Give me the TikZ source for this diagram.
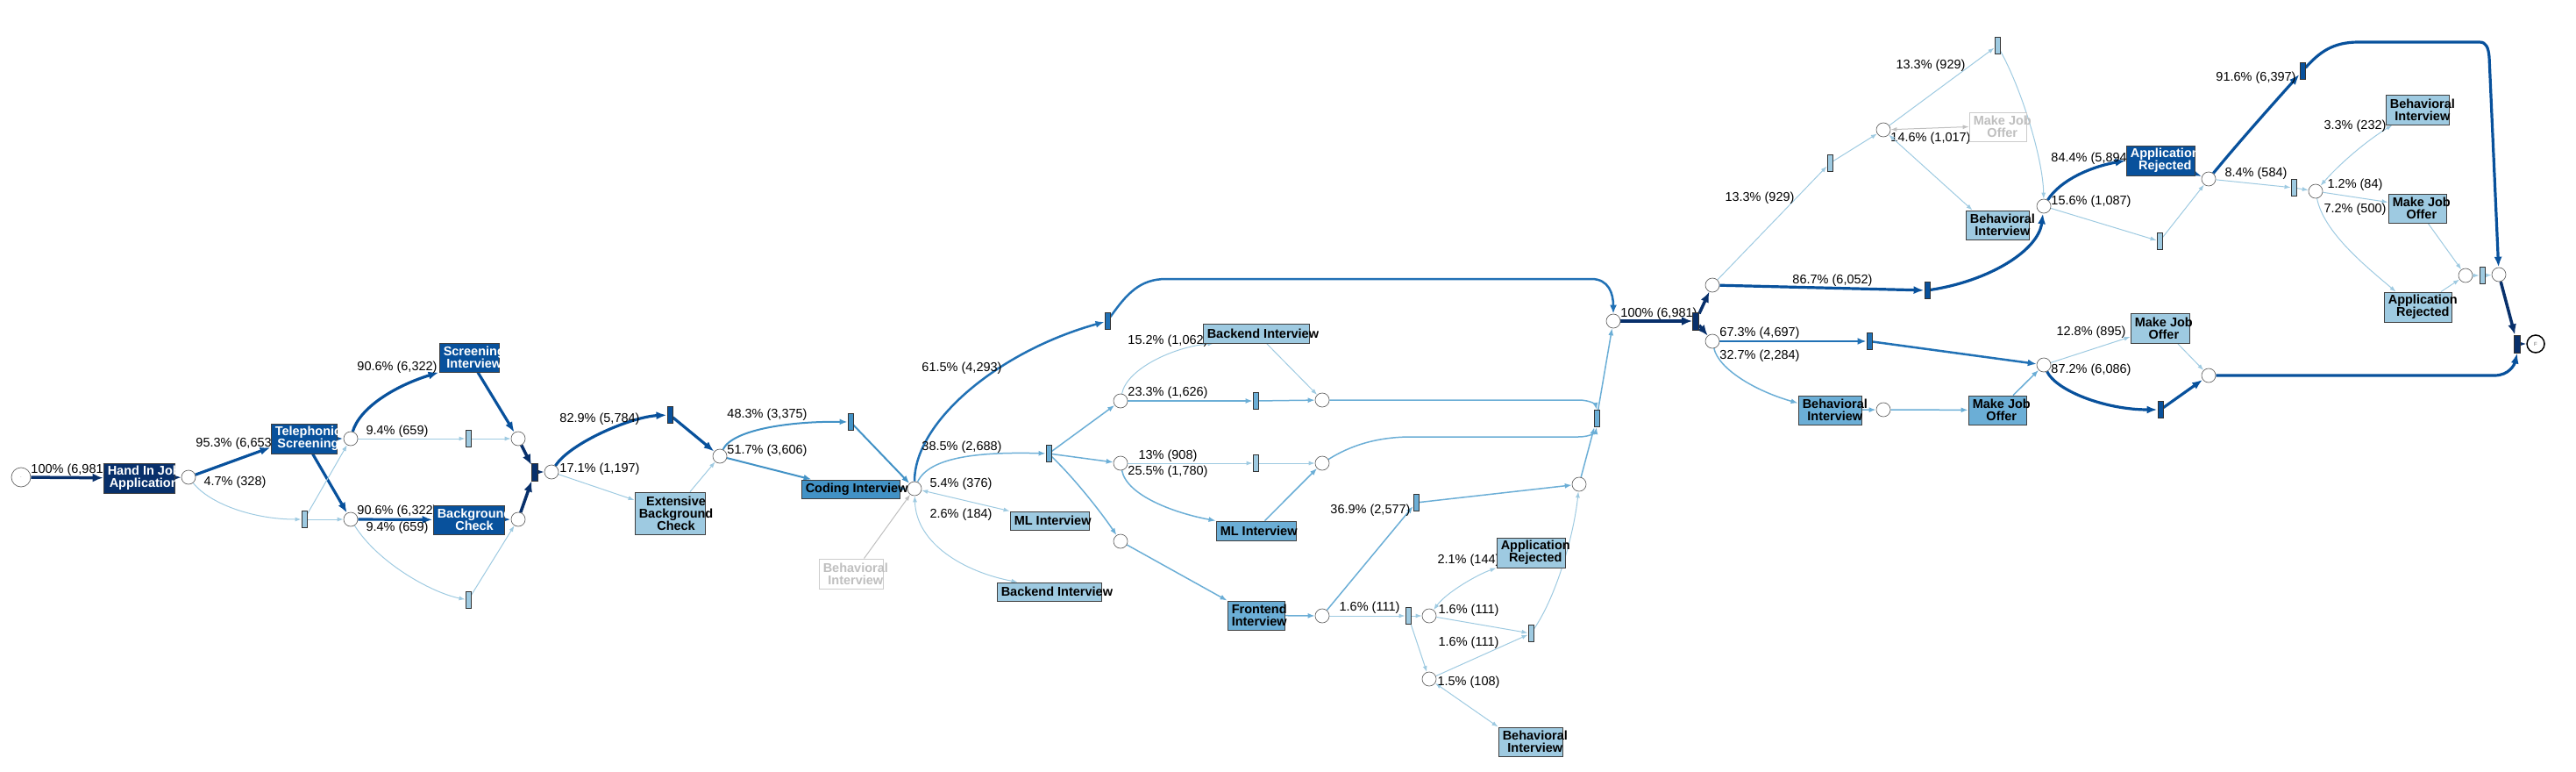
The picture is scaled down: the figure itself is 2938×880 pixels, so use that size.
\documentclass[tikz,border=0pt]{standalone}
\usepackage{fontspec}
\setmainfont{Liberation Sans}
\usetikzlibrary{arrows.meta, calc}

\definecolor{bl9}{HTML}{08306B}
\definecolor{bl8}{HTML}{08519C}
\definecolor{bl7}{HTML}{2171B5}
\definecolor{bl6}{HTML}{4292C6}
\definecolor{bl5}{HTML}{6BAED6}
\definecolor{bl4}{HTML}{9ECAE1}
\newcommand\lblfont{\fontsize{14.5}{15}\selectfont}
\newcommand\actfont{\fontsize{14.5}{14}\selectfont\bfseries}
\pgfdeclarelayer{bg}
\pgfsetlayers{bg,main}

\begin{document}
\begin{tikzpicture}[x=1pt, y=-1pt,
    place/.style={circle, draw=black!60, line width=0.7pt, fill=white, minimum size=16pt, inner sep=0pt},
    tau/.style={rectangle, draw=black!80, line width=0.9pt, minimum width=6pt, minimum height=19pt, inner sep=0pt},
    andt/.style={tau, minimum width=7pt, minimum height=20pt, fill=bl9},
    act/.style={rectangle, draw=black!75, line width=0.9pt, inner sep=0pt},
    ghost/.style={act, draw=black!20, fill=white},
    atxt/.style={font=\actfont, align=center, anchor=west, inner sep=0pt, xshift=5pt},
    lbl/.style={font=\lblfont, inner sep=0pt},
    e1/.style={draw=bl4, line width=1pt, -{Latex[length=7pt,width=5pt]}},
    e1b/.style={e1, {Latex[length=7pt,width=5pt]}-{Latex[length=7pt,width=5pt]}},
    eg/.style={draw=black!25, line width=1pt, -{Latex[length=7pt,width=5pt]}},
    egb/.style={eg, {Latex[length=7pt,width=5pt]}-{Latex[length=7pt,width=5pt]}},
    e2/.style={draw=bl5, line width=1.5pt, -{Latex[length=8pt,width=6pt]}},
    e3/.style={draw=bl6, line width=2pt, -{Latex[length=9pt,width=7pt]}},
    e4/.style={draw=bl7, line width=2.5pt, -{Latex[length=10pt,width=8pt]}},
    e5/.style={draw=bl8, line width=3.2pt, -{Latex[length=12pt,width=9pt]}},
    e6/.style={draw=bl9, line width=3.5pt, -{Latex[length=12pt,width=10pt]}}]
  \useasboundingbox (0,0) rectangle (2938,880);

  \node[place, minimum size=22pt] (start) at (24,544) {\fontsize{5}{5}\selectfont $\cdot$};
  \node[act, fill=bl9, minimum width=81, minimum height=34, label={[atxt, white]west:{Hand In Job\\Application}}] (handin) at (158.5,545) {};
  \node[place] (p1) at (215,544) {};
  \node[act, fill=bl8, minimum width=75, minimum height=34, label={[atxt, white]west:{Telephonic\\Screening}}] (tel) at (346.5,500) {};
  \node[tau, fill=bl4] (t1) at (347,592) {};
  \node[place] (p2) at (400,500) {};
  \node[place] (p3) at (400,592) {};
  \node[act, fill=bl8, minimum width=68, minimum height=33, label={[atxt, white]west:{Screening\\Interview}}] (si) at (535,407.5) {};
  \node[tau, fill=bl4] (t2) at (534,500) {};
  \node[act, fill=bl8, minimum width=81, minimum height=33, label={[atxt, white]west:{Background\\Check}}] (bc) at (534.5,592.5) {};
  \node[tau, fill=bl4] (t3) at (534,684) {};
  \node[place] (p4) at (591,500) {};
  \node[place] (p5) at (591,592) {};
  \node[andt] (t4) at (610,538) {};
  \node[place] (p6) at (629,538) {};
  \node[tau, fill=bl8] (t5) at (764,473) {};
  \node[act, fill=bl4, minimum width=80, minimum height=48, label={[atxt]west:{Extensive\\Background\\Check}}] (ebc) at (764,585) {};
  \node[place] (p7) at (821,520) {};
  \node[tau, fill=bl6] (t6) at (970,481) {};
  \node[act, fill=bl6, minimum width=112, minimum height=21, label={[atxt]west:{Coding Interview}}] (ci) at (970,557.5) {};
  \node[ghost, minimum width=73, minimum height=34, label={[atxt, black!25]west:{Behavioral\\Interview}}] (big) at (970.5,654) {};
  \node[place] (p8) at (1043,557) {};
  \node[tau, fill=bl7] (t7) at (1263,366) {};
  \node[tau, fill=bl5] (t8) at (1196,517) {};
  \node[act, fill=bl4, minimum width=90, minimum height=21, label={[atxt]west:{ML Interview}}] (mll) at (1197,593.5) {};
  \node[act, fill=bl4, minimum width=119, minimum height=21, label={[atxt]west:{Backend Interview}}] (bel) at (1196.5,674.5) {};
  \node[place] (p9) at (1278,457) {};
  \node[place] (p10) at (1278,528) {};
  \node[place] (p11) at (1278,617) {};
  \node[act, fill=bl4, minimum width=121, minimum height=22, label={[atxt]west:{Backend Interview}}] (beu) at (1432.5,380) {};
  \node[tau, fill=bl5] (t9) at (1432,457) {};
  \node[tau, fill=bl4] (t10) at (1432,528) {};
  \node[act, fill=bl5, minimum width=91, minimum height=22, label={[atxt]west:{ML Interview}}] (mlr) at (1432.5,605) {};
  \node[act, fill=bl5, minimum width=65, minimum height=33, label={[atxt]west:{Frontend\\Interview}}] (fe) at (1432.5,701.5) {};
  \node[place] (p12) at (1508,456) {};
  \node[place] (p13) at (1508,528) {};
  \node[place] (p14) at (1508,702) {};
  \node[tau, fill=bl5] (t11) at (1615,573) {};
  \node[tau, fill=bl4] (t12) at (1606,702) {};
  \node[place] (p15) at (1801,552) {};
  \node[tau, fill=bl5] (t13) at (1821,477) {};
  \node[place] (pj) at (1840,366) {};
  \node[place] (p16) at (1630,702) {};
  \node[place] (p17) at (1630,774) {};
  \node[act, fill=bl4, minimum width=78, minimum height=34, label={[atxt]west:{Application\\Rejected}}] (arm) at (1746,630) {};
  \node[tau, fill=bl4] (t14) at (1746,722) {};
  \node[act, fill=bl4, minimum width=73, minimum height=33, label={[atxt]west:{Behavioral\\Interview}}] (bib) at (1745.5,845.5) {};
  \node[andt] (t15) at (1934,366) {};
  \node[place] (p18) at (1953,325) {};
  \node[place] (p19) at (1953,389) {};
  \node[tau, fill=bl4] (t20) at (2087,186) {};
  \node[place] (p23) at (2148,148) {};
  \node[ghost, minimum width=65, minimum height=33, label={[atxt, black!25]west:{Make Job\\Offer}}] (mjog) at (2278.5,144.5) {};
  \node[act, fill=bl4, minimum width=72, minimum height=33, label={[atxt]west:{Behavioral\\Interview}}] (biu) at (2278,256.5) {};
  \node[tau, fill=bl4] (t21) at (2278,52) {};
  \node[tau, fill=bl8] (t17) at (2198,331) {};
  \node[place] (p24) at (2331,235) {};
  \node[act, fill=bl8, minimum width=78, minimum height=34, label={[atxt, white]west:{Application\\Rejected}}] (art) at (2464,183) {};
  \node[tau, fill=bl4] (t22) at (2463,275) {};
  \node[place] (p25) at (2519,204) {};
  \node[tau, fill=bl8] (t23) at (2626,81) {};
  \node[tau, fill=bl4] (t24) at (2616,214) {};
  \node[place] (p27) at (2641,218) {};
  \node[act, fill=bl4, minimum width=72, minimum height=34, label={[atxt]west:{Behavioral\\Interview}}] (bitr) at (2757,125) {};
  \node[act, fill=bl4, minimum width=66, minimum height=33, label={[atxt]west:{Make Job\\Offer}}] (mjor) at (2757,237.5) {};
  \node[act, fill=bl4, minimum width=77, minimum height=34, label={[atxt]west:{Application\\Rejected}}] (arlr) at (2757.5,350) {};
  \node[place] (p28) at (2812,314) {};
  \node[tau, fill=bl4] (t25) at (2831,314) {};
  \node[place] (p26) at (2850,313) {};
  \node[tau, fill=bl7] (t16) at (2132,389) {};
  \node[act, fill=bl5, minimum width=72, minimum height=33, label={[atxt]west:{Behavioral\\Interview}}] (bim) at (2087,467.5) {};
  \node[place] (p20) at (2148,467) {};
  \node[act, fill=bl5, minimum width=66, minimum height=33, label={[atxt]west:{Make Job\\Offer}}] (mjom) at (2278,467.5) {};
  \node[place] (p21) at (2331,416) {};
  \node[act, fill=bl4, minimum width=67, minimum height=34, label={[atxt]west:{Make Job\\Offer}}] (mjour) at (2463.5,374) {};
  \node[tau, fill=bl8] (t18) at (2464,467) {};
  \node[place] (p22) at (2519,428) {};
  \node[andt] (t19) at (2871,392) {};
  \node[place, minimum size=20pt, line width=1.5pt, draw=black] (end) at (2892,392) {\fontsize{6}{6}\selectfont\color{black!60}F};

  \begin{pgfonlayer}{bg}
  \draw[e6] (start) -- (handin) node[lbl] at (79,536) {100\% (6,981)};
  \draw[e6] (handin) -- (p1);
  \draw[e5] (p1) -- ($(tel.west)+(0,10)$) node[lbl] at (269,506) {95.3\% (6,653)};
  \draw[e1] (p1) .. controls (240,575) and (290,592) .. (t1) node[lbl] at (268,550) {4.7\% (328)};
  \draw[e5] (tel) -- (p2);
  \draw[e5] (tel) -- (p3);
  \draw[e1] (t1) -- (p2);
  \draw[e1] (t1) -- (p3);
  \draw[e5] (p2) .. controls (410,465) and (450,440) .. (si.south west) node[lbl] at (453,419) {90.6\% (6,322)};
  \draw[e1] (p2) -- (t2) node[lbl] at (453,492) {9.4\% (659)};
  \draw[e5] ($(si.south)+(10,0)$) -- (p4);
  \draw[e1] (t2) -- (p4);
  \draw[e5] (p3) -- (bc) node[lbl] at (453,583) {90.6\% (6,322)};
  \draw[e1] (p3) .. controls (430,640) and (490,675) .. (t3) node[lbl] at (453,602) {9.4\% (659)};
  \draw[e5] (bc) -- (p5);
  \draw[e1] (t3) -- (p5);
  \draw[e6] (p4) -- (t4);
  \draw[e6] (p5) -- (t4);
  \draw[e6] (t4) -- (p6);
  \draw[e5] (p6) .. controls (650,505) and (720,475) .. (t5) node[lbl] at (684,478) {82.9\% (5,784)};
  \draw[e1] (p6) -- ($(ebc.west)+(0,-15)$) node[lbl] at (684,535) {17.1\% (1,197)};
  \draw[e5] (t5) -- (p7);
  \draw[e1] ($(ebc.north)+(23,0)$) -- (p7);
  \draw[e3] (p7) .. controls (835,490) and (900,480) .. (t6) node[lbl] at (875,473) {48.3\% (3,375)};
  \draw[e3] (p7) -- ($(ci.north west)+(12,0)$) node[lbl] at (875,514) {51.7\% (3,606)};
  \draw[e3] (t6) -- (p8);
  \draw[e3] (ci) -- (p8);
  \draw[eg] ($(big.north)+(15,0)$) -- (p8);
  \draw[e4] (p8) .. controls (1043,480) and (1140,400) .. (t7) node[lbl] at (1097,420) {61.5\% (4,293)};
  \draw[e2] (p8) .. controls (1060,520) and (1120,515) .. (t8) node[lbl] at (1097,510) {38.5\% (2,688)};
  \draw[e1b] (p8) -- (mll.north west) node[lbl] at (1096,552) {5.4\% (376)};
  \draw[e1b] (p8) .. controls (1045,620) and (1100,652) .. ($(bel.north west)+(24,0)$) node[lbl] at (1096,587) {2.6\% (184)};
  \draw[e4] (t7) .. controls (1285,335) and (1300,318) .. (1330,318) -- (1815,318) .. controls (1835,318) and (1840,335) .. (pj);
  \draw[e2] (t8) -- (p9);
  \draw[e2] (t8) -- (p10);
  \draw[e2] (t8) .. controls (1230,550) and (1260,590) .. (p11);
  \draw[e1] (p9) .. controls (1285,420) and (1340,395) .. ($(beu.south west)+(13,0)$) node[lbl] at (1332,389) {15.2\% (1,062)};
  \draw[e2] (p9) -- (t9) node[lbl] at (1332,448) {23.3\% (1,626)};
  \draw[e1] ($(beu.south)+(12,0)$) -- (p12);
  \draw[e2] (t9) -- (p12);
  \draw[e1] (p10) -- (t10) node[lbl] at (1332,520) {13\% (908)};
  \draw[e2] (p10) .. controls (1285,565) and (1340,585) .. (mlr.north west) node[lbl] at (1332,538) {25.5\% (1,780)};
  \draw[e1] (t10) -- (p13);
  \draw[e2] ($(mlr.north)+(10,0)$) -- (p13);
  \draw[e2] (p11) -- (fe.north west);
  \draw[e2] (fe) -- (p14);
  \draw[e2] (p14) -- (t11) node[lbl] at (1563,582) {36.9\% (2,577)};
  \draw[e1] (p14) -- (t12) node[lbl] at (1562,693) {1.6\% (111)};
  \draw[e2] (p12) -- (1800,456) .. controls (1815,456) and (1820,462) .. (t13.north);
  \draw[e2] (p13) .. controls (1540,508) and (1570,498) .. (1610,498) -- (1800,498) .. controls (1815,498) and (1820,492) .. (t13.south);
  \draw[e2] (t13) -- (pj);
  \draw[e2] (t11) -- (p15);
  \draw[e2] (p15) -- (t13);
  \draw[e1] (t12) -- (p16);
  \draw[e1] (t12) -- (p17);
  \draw[e1b] (p16) .. controls (1650,675) and (1685,655) .. (arm.south west) node[lbl] at (1675,639) {2.1\% (144)};
  \draw[e1] (p16) -- (t14) node[lbl] at (1675,696) {1.6\% (111)};
  \draw[e1] (p17) -- (t14) node[lbl] at (1675,733) {1.6\% (111)};
  \draw[e1b] (p17) -- (bib.north west) node[lbl] at (1675,778) {1.5\% (108)};
  \draw[e1] (t14) .. controls (1775,680) and (1795,610) .. (p15);
  \draw[e6] (pj) -- (t15) node[lbl] at (1892,358) {100\% (6,981)};
  \draw[e6] (t15) -- (p18);
  \draw[e6] (t15) -- (p19);
  \draw[e5] (p18) -- (t17) node[lbl] at (2090,320) {86.7\% (6,052)};
  \draw[e1] (p18) -- (t20) node[lbl] at (2007,226) {13.3\% (929)};
  \draw[e4] (p19) -- (t16) node[lbl] at (2007,380) {67.3\% (4,697)};
  \draw[e2] (p19) .. controls (1960,420) and (2000,445) .. ($(bim.west)+(0,-8)$) node[lbl] at (2007,406) {32.7\% (2,284)};
  \draw[e2] (bim) -- (p20);
  \draw[e2] (p20) -- (mjom);
  \draw[e4] (t16) -- (p21);
  \draw[e2] ($(mjom.north)+(18,0)$) -- (p21);
  \draw[e1] (p21) -- ($(mjour.west)+(0,10)$) node[lbl] at (2385,379) {12.8\% (895)};
  \draw[e5] (p21) .. controls (2345,445) and (2400,467) .. (t18) node[lbl] at (2385,422) {87.2\% (6,086)};
  \draw[e1] ($(mjour.south)+(20,0)$) -- (p22);
  \draw[e5] (t18) -- (p22);
  \draw[e5] (p22) -- (2845,428) .. controls (2862,428) and (2868,415) .. (t19.south);
  \draw[e6] (t19) -- (end);
  \draw[e1] (t20) -- (p23);
  \draw[egb] (p23) -- (mjog.west) node[lbl] at (2202,158) {14.6\% (1,017)};
  \draw[e1b] (p23) -- ($(biu.north west)+(8,0)$);
  \draw[e1] (p23) -- (t21) node[lbl] at (2202,75) {13.3\% (929)};
  \draw[e1] (t21) .. controls (2305,100) and (2330,180) .. (p24);
  \draw[e5] (t17) .. controls (2270,320) and (2325,285) .. (p24);
  \draw[e5] (p24) .. controls (2350,205) and (2385,190) .. (art.west) node[lbl] at (2385,181) {84.4\% (5,894)};
  \draw[e1] (p24) -- (t22) node[lbl] at (2385,230) {15.6\% (1,087)};
  \draw[e5] (art) -- (p25);
  \draw[e1] (t22) -- (p25);
  \draw[e5] (p25) .. controls (2555,160) and (2600,110) .. (t23) node[lbl] at (2573,89) {91.6\% (6,397)};
  \draw[e5] (t23) .. controls (2645,60) and (2660,48) .. (2690,48) -- (2828,48) .. controls (2836,48) and (2838,55) .. (2839,65) -- (p26);
  \draw[e1] (p25) -- (t24) node[lbl] at (2573,198) {8.4\% (584)};
  \draw[e1] (t24) -- (p27);
  \draw[e1b] (p27) .. controls (2670,185) and (2700,160) .. ($(bitr.south west)+(8,0)$) node[lbl] at (2686,144) {3.3\% (232)};
  \draw[e1] (p27) -- ($(mjor.west)+(0,-7)$) node[lbl] at (2686,211) {1.2\% (84)};
  \draw[e1] (p27) .. controls (2650,265) and (2700,305) .. ($(arlr.north west)+(14,0)$) node[lbl] at (2686,239) {7.2\% (500)};
  \draw[e1] (mjor) -- (p28);
  \draw[e1] (arlr) -- (p28);
  \draw[e1] (p28) -- (t25);
  \draw[e1] (t25) -- (p26);
  \draw[e6] (p26) -- (t19);
  \end{pgfonlayer}
\end{tikzpicture}
\end{document}
